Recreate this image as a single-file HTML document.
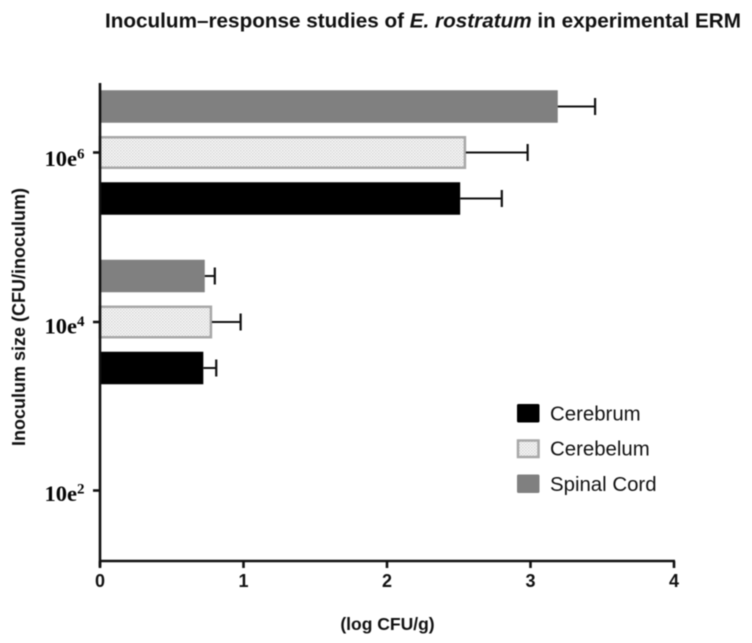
<!DOCTYPE html>
<html>
<head>
<meta charset="utf-8">
<style>
html,body{margin:0;padding:0;background:#fff;width:752px;height:643px;overflow:hidden}
svg{display:block;filter:blur(0.4px)}
text{font-family:"Liberation Sans",sans-serif;fill:#111}
.serif{font-family:"Liberation Serif",serif;font-weight:bold;fill:#050505}
</style>
</head>
<body>
<svg id="chart" width="752" height="643" viewBox="0 0 752 643" xmlns="http://www.w3.org/2000/svg">
<defs>
<pattern id="dots" width="3" height="3" patternUnits="userSpaceOnUse">
<rect width="3" height="3" fill="#f8f8f8"/>
<rect width="1.5" height="1.5" fill="#d8d8d8"/>
<rect x="1.5" y="1.5" width="1.5" height="1.5" fill="#dcdcdc"/>
</pattern>
</defs>
<text x="105" y="27.5" font-size="20.6" font-weight="bold" textLength="636" lengthAdjust="spacingAndGlyphs">Inoculum–response studies of <tspan font-style="italic">E. rostratum</tspan> in experimental ERM</text>
<text x="0" y="0" transform="translate(25,317) rotate(-90)" text-anchor="middle" font-size="18" font-weight="bold">Inoculum size (CFU/inoculum)</text>
<text x="387.5" y="630" text-anchor="middle" font-size="17.5" font-weight="bold">(log CFU/g)</text>
<g id="bars"></g>
<g id="axes"></g>
<g>
<rect x="517" y="404" width="22.5" height="18.5" rx="1.5" fill="#000"/>
<text x="550" y="420.7" font-size="20.4">Cerebrum</text>
<rect x="518" y="440.5" width="20.5" height="16.5" fill="url(#dots)" stroke="#a8a8a8" stroke-width="2.5"/>
<text x="550" y="455.7" font-size="20.4">Cerebelum</text>
<rect x="517" y="474.5" width="22.5" height="18.5" rx="1.5" fill="#808080"/>
<text x="550" y="491" font-size="20.4">Spinal Cord</text>
</g>
</svg>
<script>
const categories = ["10e6", "10e4", "10e2"];
const superscripts = ["6", "4", "2"];
const seriesNames = ["Spinal Cord", "Cerebelum", "Cerebrum"];
const spinalValues = [3.19, 0.73, null];
const spinalErrors = [0.26, 0.07, null];
const cerebelumValues = [2.55, 0.78, null];
const cerebelumErrors = [0.43, 0.20, null];
const cerebrumValues = [2.51, 0.72, null];
const cerebrumErrors = [0.29, 0.09, null];
const xTicks = [0, 1, 2, 3, 4];

const NS = "http://www.w3.org/2000/svg";
const xScale = v => 100 + v * 143.5;
const yScale = i => 152.5 + i * 169.5;
const labelBaseline = i => 166 + i * 167.4;
const groupOffset = s => (s - 1) * 46;
const seriesValues = [spinalValues, cerebelumValues, cerebrumValues];
const seriesErrors = [spinalErrors, cerebelumErrors, cerebrumErrors];
const seriesFill = ["#808080", "url(#dots)", "#000"];

function make(tag, attrs, parent) {
  const el = document.createElementNS(NS, tag);
  for (const k in attrs) el.setAttribute(k, attrs[k]);
  parent.appendChild(el);
  return el;
}
const barsG = document.getElementById("bars");
const axesG = document.getElementById("axes");

seriesValues.forEach((vals, s) => {
  vals.forEach((v, c) => {
    if (v === null) return;
    const cy = yScale(c) + groupOffset(s);
    const isHatched = s === 1;
    const h = isHatched ? 30.5 : 32.5;
    const inset = isHatched ? 1 : 0;
    const bar = make("rect", {
      x: xScale(0),
      y: cy - h / 2,
      width: xScale(v) - xScale(0) - inset,
      height: h,
      fill: seriesFill[s]
    }, barsG);
    if (isHatched) {
      bar.setAttribute("stroke", "#a8a8a8");
      bar.setAttribute("stroke-width", "2.5");
    }
    
    
    const e = seriesErrors[s][c];
    const stem = make("line", {
      x1: xScale(v), x2: xScale(v + e), y1: cy, y2: cy,
      stroke: "#111", "stroke-width": 2
    }, barsG);
    
    
    const cap = make("line", {
      x1: xScale(v + e), x2: xScale(v + e), y1: cy - 8.5, y2: cy + 8.5,
      stroke: "#111", "stroke-width": 2.2
    }, barsG);
    
    
  });
});

const yLine = make("line", {x1: 100, x2: 100, y1: 83, y2: 567, stroke: "#111", "stroke-width": 2.6}, axesG);


const xLine = make("line", {x1: 99, x2: 675, y1: 561, y2: 561, stroke: "#111", "stroke-width": 2.6}, axesG);



xTicks.forEach(t => {
  const tick = make("line", {x1: xScale(t), x2: xScale(t), y1: 561, y2: 568, stroke: "#111", "stroke-width": 2.6}, axesG);
  
  
  const label = make("text", {x: xScale(t), y: 587, "text-anchor": "middle", "font-size": 18, "font-weight": "bold"}, axesG);
  label.textContent = t;
  
  
});

categories.forEach((cat, i) => {
  const y = yScale(i) + (i === 2 ? -1 : 0);
  const tick = make("line", {x1: 93, x2: 100, y1: y, y2: y, stroke: "#111", "stroke-width": 2.6}, axesG);
  
  
  const label = make("text", {x: 44.5, y: labelBaseline(i), "font-size": 22.5, class: "serif"}, axesG);
  label.textContent = cat.slice(0, 3);
  const sup = make("tspan", {dy: -7.5, "font-size": 15}, label);
  sup.textContent = superscripts[i];
  
  
});
</script>
</body>
</html>
